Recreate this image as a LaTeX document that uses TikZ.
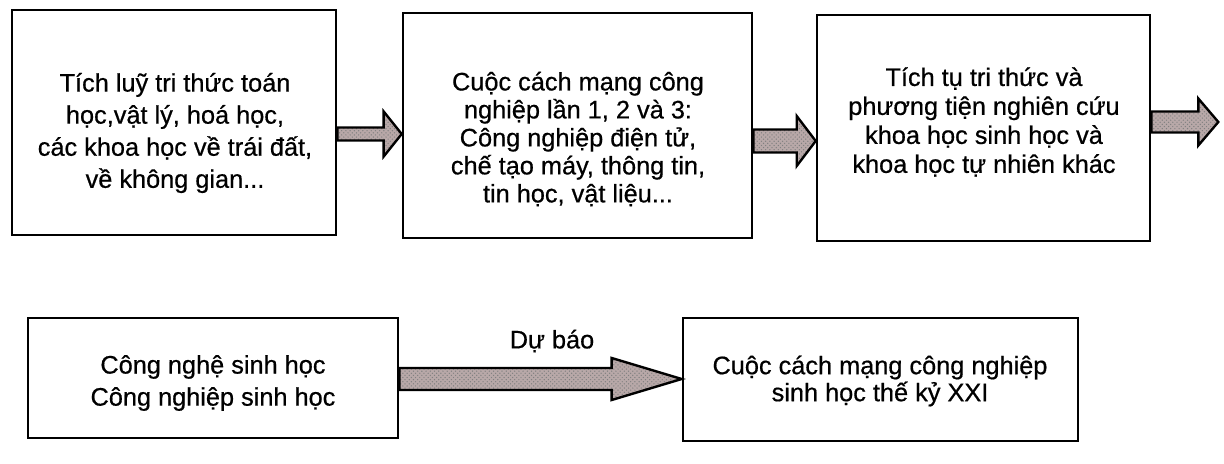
\documentclass[tikz,border=0pt]{standalone}
\usepackage{fontspec}
\setmainfont{Liberation Sans}[FakeBold=0.6]
\usepackage{tikz}
\usetikzlibrary{patterns,calc}

\definecolor{arrfill}{RGB}{184,168,168}

% freccia grossa: coda, punta, mezzo spessore, mezza testa, lunghezza testa
\newcommand{\fatarrow}[5]{%
	\draw[fatarr] ($(#1)+(0,-#3)$) -- ($(#2)+(-#5,-#3)$) -- ($(#2)+(-#5,-#4)$) -- (#2)
		-- ($(#2)+(-#5,#4)$) -- ($(#2)+(-#5,#3)$) -- ($(#1)+(0,#3)$) -- cycle;}

\begin{document}
\begin{tikzpicture}[x=0.025cm, y=-0.025cm,
		box/.style={draw, line width=1.8pt, inner sep=0pt},
		txt/.style={align=center, inner sep=0pt, font=\fontsize{18}{#1}\selectfont},
		txt/.default=21,
		fatarr/.style={preaction={fill=arrfill}, preaction={pattern=crosshatch dots, pattern color=black!50}, draw, line width=1.7pt, line join=miter}]
	\useasboundingbox (0,0) rectangle (1224,464);

	\node[box, minimum width=8.1cm, minimum height=5.625cm] (b1) at (174,122.5) {};
	\node[box, minimum width=8.725cm, minimum height=5.625cm] (b2) at (577.5,125.5) {};
	\node[box, minimum width=8.325cm, minimum height=5.65cm] (b3) at (983.5,128) {};
	\node[box, minimum width=9.25cm, minimum height=3cm] (b4) at (213,378) {};
	\node[box, minimum width=9.875cm, minimum height=3.075cm] (b5) at (880.5,379.5) {};

	\node[txt=22.8] (t1) at (175,133) {Tích luỹ tri thức toán\\ học,vật lý, hoá học,\\ các khoa học về trái đất,\\ về không gian...};
	\node[txt=19.9] (t2) at (578,139) {Cuộc cách mạng công\\ nghiệp lần 1, 2 và 3:\\ Công nghiệp điện tử,\\ chế tạo máy, thông tin,\\ tin học, vật liệu...};
	\node[txt=20.6] (t3) at (984,122) {Tích tụ tri thức và\\ phương tiện nghiên cứu\\ khoa học sinh học và\\ khoa học tự nhiên khác};
	\node[txt=22.8] (t4) at (213,383) {Công nghệ sinh học\\ Công nghiệp sinh học};
	\node[txt=19.2] (t5) at (880,381) {Cuộc cách mạng công nghiệp\\ sinh học thế kỷ XXI};
	\node[txt] (lbl) at (552,341) {Dự báo};

	\coordinate (a1s) at ($(b1.east)+(0,11.5)$);
	\coordinate (a1e) at ($(b2.west)+(0,8.5)$);
	\coordinate (a2s) at ($(b2.east)+(0,15.5)$);
	\coordinate (a2e) at ($(b3.west)+(0,13)$);
	\coordinate (a3s) at ($(b3.east)+(0,-6)$);
	\coordinate (a3e) at ($(b3.east)+(67,-6)$); % verso destra
	\coordinate (a4s) at ($(b4.east)+(0,1)$);
	\coordinate (a4e) at ($(b5.west)+(0,-0.5)$);

	\fatarrow{a1s}{a1e}{6.5}{22.5}{18}
	\fatarrow{a2s}{a2e}{11.5}{25}{19}
	\fatarrow{a3s}{a3e}{10.5}{23.5}{20}
	\fatarrow{a4s}{a4e}{11}{21}{70} % dự báo
\end{tikzpicture}
\end{document}
